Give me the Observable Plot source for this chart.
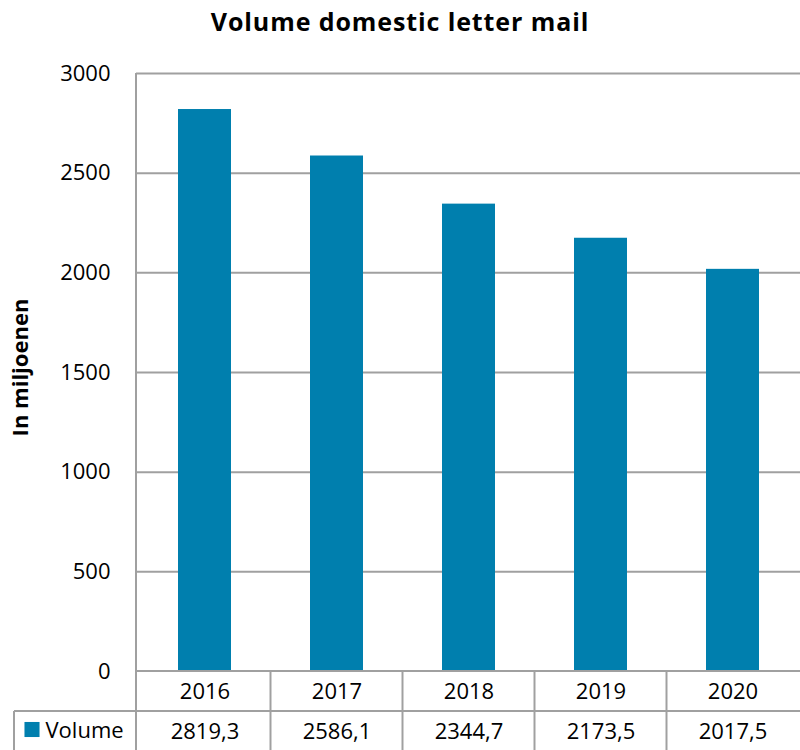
<!DOCTYPE html>
<html><head><meta charset="utf-8">
<script src="https://cdn.jsdelivr.net/npm/d3@7"></script>
<script src="https://cdn.jsdelivr.net/npm/@observablehq/plot@0.6"></script>
<style>
body{margin:0;background:#fff;font-family:"Open Sans",sans-serif;overflow:hidden}
#title{height:46px;line-height:42px;text-align:center;font-weight:bold;font-size:25px;letter-spacing:0.9px;color:#000}
</style></head><body>
<div id="title">Volume domestic letter mail</div>
<div id="chart"></div>
<script>
const years = ["2016","2017","2018","2019","2020"];
const volume = [2819.3, 2586.1, 2344.7, 2173.5, 2017.5];
const valueLabels = ["2819,3","2586,1","2344,7","2173,5","2017,5"];
const yTicks = [0,500,1000,1500,2000,2500,3000];
const seriesName = "Volume";
const yLabel = "In miljoenen";

const data = years.map((y,i)=>({year:y, value:volume[i], label:valueLabels[i]}));
const W=800,H=704,mL=136,mR=0,mT=27,mB=79;
const barColor="#007fae";
const lineColor="#a0a0a0";
const fs = 22;
const plot = Plot.plot({
  width:W,height:H,marginLeft:mL,marginRight:mR,marginTop:mT,marginBottom:mB,
  style:{fontFamily:"Open Sans",fontSize:fs+"px",color:"#000",background:"#fff",overflow:"visible"},
  x:{domain:years,paddingInner:0.6,paddingOuter:0.3,axis:null},
  y:{domain:[0,3000],label:null},
  marks:[
    Plot.gridY(yTicks.filter(d=>d>0),{stroke:lineColor,strokeOpacity:1,strokeWidth:2}),
    Plot.axisY(yTicks,{tickSize:0,tickPadding:26,fontSize:fs,label:null,tickFormat:d=>String(d)}),
    Plot.barY(data,{x:"year",y:"value",fill:barColor}),
    Plot.text([yLabel],{frameAnchor:"left",textAnchor:"middle",rotate:-90,dx:-116,dy:-5,fontWeight:"bold",fontSize:22,letterSpacing:"0.6px"}),
    Plot.text(data,{x:"year",text:"year",frameAnchor:"bottom",dy:20,fontSize:fs,lineAnchor:"middle"}),
    Plot.text(data,{x:"year",text:"label",frameAnchor:"bottom",dy:60,fontSize:fs,lineAnchor:"middle"}),
    Plot.text([seriesName],{frameAnchor:"bottom-left",dx:-91,dy:59,textAnchor:"start",fontSize:fs,lineAnchor:"middle"}),
    Plot.dot([seriesName],{frameAnchor:"bottom-left",dx:-104.5,dy:58,symbol:"square",r:8.5,fill:barColor,stroke:null})
  ]
});
document.getElementById("chart").appendChild(plot);

// table grid lines, positioned from the plot's scales
const xs = plot.scale("x"), ys = plot.scale("y");
const gap = (xs.step - xs.bandwidth)/2;
const y0 = ys.apply(0), rowH = 40;
const svg = d3.select(plot);
const g = svg.append("g").attr("stroke",lineColor).attr("stroke-width",2);
g.append("line").attr("x1",mL).attr("x2",mL).attr("y1",ys.apply(3000)).attr("y2",H);
g.append("line").attr("x1",mL).attr("x2",W).attr("y1",y0).attr("y2",y0);
g.append("line").attr("x1",14).attr("x2",W).attr("y1",y0+rowH).attr("y2",y0+rowH);
g.append("line").attr("x1",14).attr("x2",14).attr("y1",y0+rowH).attr("y2",H);
years.slice(1).forEach(yr=>{
  const xe = xs.apply(yr) - gap;
  g.append("line").attr("x1",xe).attr("x2",xe).attr("y1",y0).attr("y2",H);
});
</script>
</body></html>
